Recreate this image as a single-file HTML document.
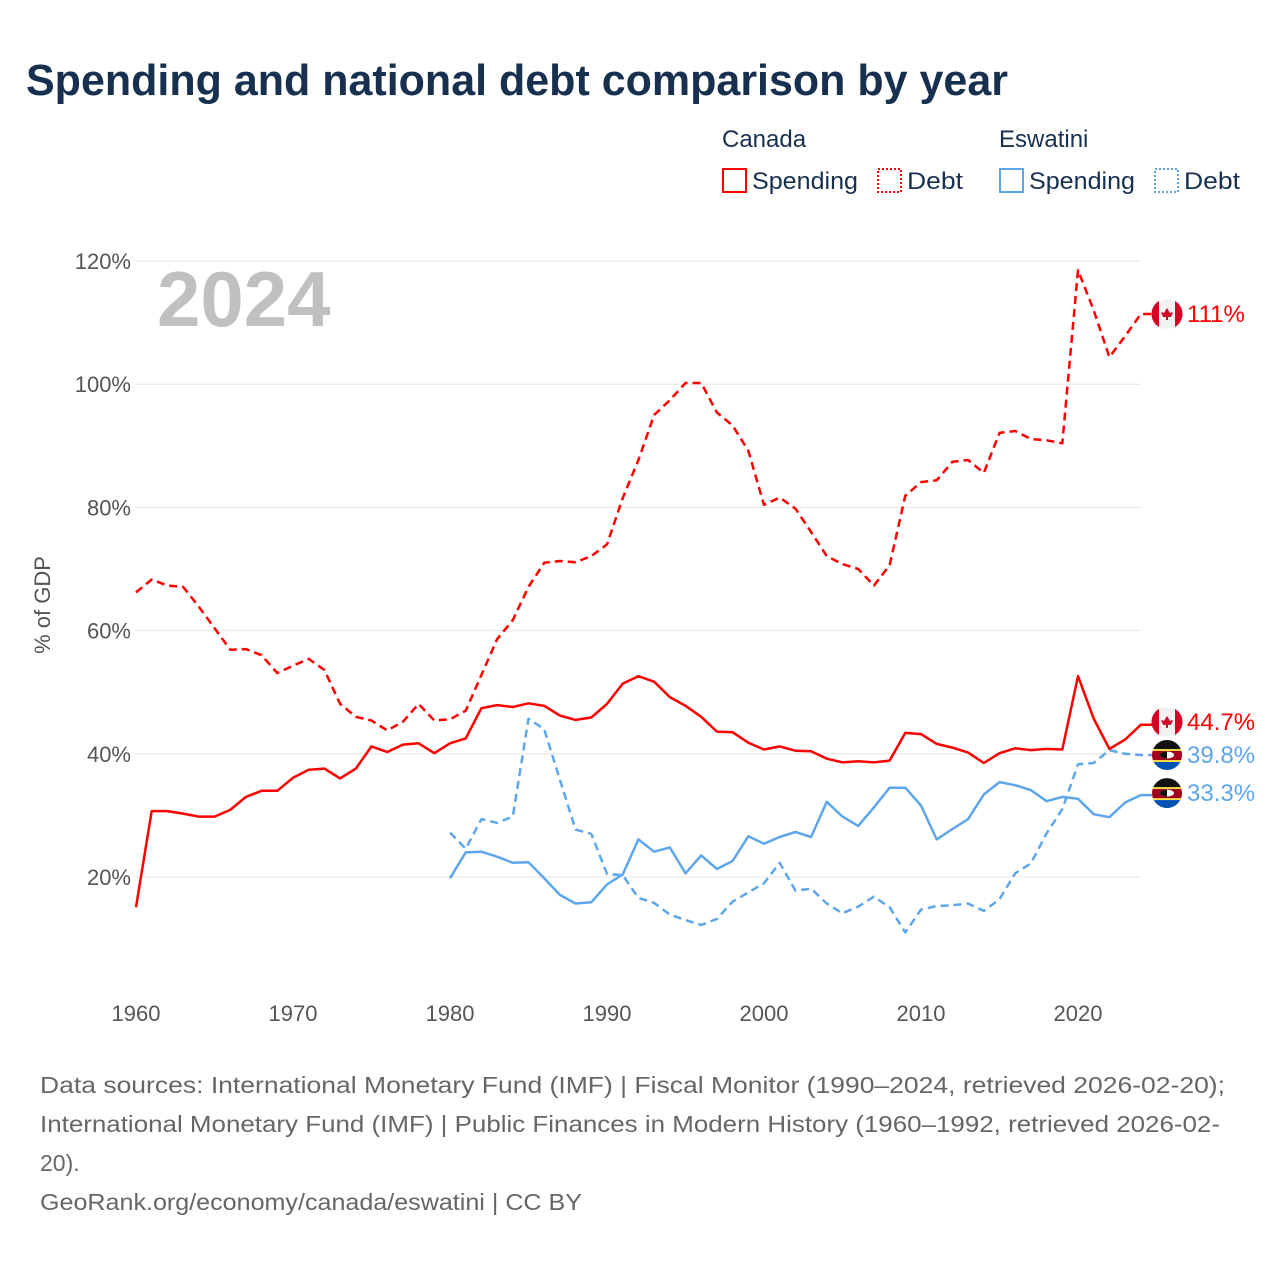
<!DOCTYPE html>
<html><head><meta charset="utf-8"><style>
body{margin:0;background:#fff;}
svg{display:block;font-family:"Liberation Sans",sans-serif;}
</style></head><body>
<svg id="chart" width="1280" height="1280" viewBox="0 0 1280 1280">
<text x="26" y="95" font-size="44" font-weight="bold" fill="#17304f" textLength="982" lengthAdjust="spacingAndGlyphs">Spending and national debt comparison by year</text>
<g>
<text x="722" y="147" font-size="24" fill="#17304f">Canada</text>
<text x="999" y="147" font-size="24" fill="#17304f">Eswatini</text>
<g><rect x="723" y="169" width="23" height="23" fill="none" stroke="#ff0000" stroke-width="2"/><text x="752" y="189" font-size="24" fill="#17304f" textLength="106" lengthAdjust="spacingAndGlyphs">Spending</text></g>
<g><rect x="878" y="169" width="23" height="23" fill="none" stroke="#ff0000" stroke-width="2" stroke-dasharray="2,2"/><text x="907" y="189" font-size="24" fill="#17304f" textLength="56" lengthAdjust="spacingAndGlyphs">Debt</text></g>
<g><rect x="1000" y="169" width="23" height="23" fill="none" stroke="#5ea6ec" stroke-width="2"/><text x="1029" y="189" font-size="24" fill="#17304f" textLength="106" lengthAdjust="spacingAndGlyphs">Spending</text></g>
<g><rect x="1155" y="169" width="23" height="23" fill="none" stroke="#5ea6ec" stroke-width="2" stroke-dasharray="2,2"/><text x="1184" y="189" font-size="24" fill="#17304f" textLength="56" lengthAdjust="spacingAndGlyphs">Debt</text></g>
</g>
<text x="157" y="326" font-size="78" font-weight="bold" fill="#c0c0c0">2024</text>
<g id="grid"></g><g id="axes"></g><g id="series"></g><g id="endlabels"></g>
<text transform="translate(50,605) rotate(-90)" text-anchor="middle" font-size="22" fill="#555">% of GDP</text>
<g font-size="23" fill="#666">
<text x="40" y="1093" textLength="1185" lengthAdjust="spacingAndGlyphs">Data sources: International Monetary Fund (IMF) | Fiscal Monitor (1990–2024, retrieved 2026-02-20);</text>
<text x="40" y="1132" textLength="1180" lengthAdjust="spacingAndGlyphs">International Monetary Fund (IMF) | Public Finances in Modern History (1960–1992, retrieved 2026-02-</text>
<text x="40" y="1171">20).</text>
<text x="40" y="1210" textLength="542" lengthAdjust="spacingAndGlyphs">GeoRank.org/economy/canada/eswatini | CC BY</text>
</g>
</svg>
<script>
const yTicks=[20,40,60,80,100,120];
const xTicks=[1960,1970,1980,1990,2000,2010,2020];
const canadaStart=1960;
const canadaSpending=[15.1,30.7,30.7,30.3,29.8,29.8,30.9,33.0,34.0,34.0,36.1,37.4,37.6,36.0,37.6,41.2,40.3,41.5,41.7,40.1,41.7,42.5,47.4,47.9,47.6,48.2,47.8,46.2,45.5,45.9,48.1,51.4,52.6,51.7,49.2,47.8,46.0,43.6,43.5,41.8,40.7,41.2,40.5,40.4,39.2,38.6,38.8,38.6,38.9,43.4,43.2,41.6,41.0,40.2,38.5,40.1,40.9,40.6,40.8,40.7,52.6,45.7,40.8,42.3,44.7];
const canadaDebt=[66.2,68.3,67.3,67.1,63.9,60.4,56.9,57.0,56.0,53.1,54.3,55.4,53.6,48.1,46.0,45.4,43.8,45.2,48.1,45.4,45.6,47.0,52.8,58.6,61.7,67.1,71.0,71.3,71.1,72.1,74.0,81.5,87.7,95.0,97.4,100.2,100.2,95.4,93.3,89.2,80.4,81.6,79.8,76.0,72.1,70.8,70.0,67.3,70.6,81.9,84.1,84.4,87.4,87.7,85.6,92.1,92.4,91.1,90.9,90.4,118.5,112.0,104.4,107.8,111.4];
const eswStart=1980;
const eswSpending=[19.8,24.0,24.1,23.3,22.3,22.4,19.8,17.1,15.7,15.9,18.8,20.4,26.1,24.1,24.8,20.6,23.5,21.3,22.6,26.6,25.4,26.5,27.3,26.5,32.2,29.8,28.3,31.3,34.5,34.5,31.6,26.1,27.8,29.4,33.4,35.4,34.9,34.1,32.3,33.0,32.7,30.2,29.7,32.1,33.3];
const eswDebt=[27.2,24.6,29.4,28.8,29.8,45.7,44.0,35.8,27.7,27.0,20.5,20.3,16.6,15.8,13.9,13.0,12.2,13.2,16.0,17.5,19.0,22.3,17.8,18.1,15.7,14.1,15.2,16.8,15.1,11.0,14.7,15.3,15.4,15.7,14.5,16.4,20.6,22.2,27.1,31.0,38.3,38.5,40.6,40.0,39.8];
const endLabels=["111%","44.7%","39.8%","33.3%"];

const NS="http://www.w3.org/2000/svg";
function xS(yr){return 136+(yr-1960)*15.7;}
function yS(v){return 877-(v-20)*6.16;}
function mk(tag,attrs,parent){const e=document.createElementNS(NS,tag);for(const k in attrs)e.setAttribute(k,attrs[k]);parent.appendChild(e);return e;}
const grid=document.getElementById('grid'),axes=document.getElementById('axes'),series=document.getElementById('series'),endG=document.getElementById('endlabels');
yTicks.forEach(t=>{
  const l=mk('line',{x1:135,x2:1141,y1:yS(t),y2:yS(t),stroke:'#e6e6e6','stroke-width':1},grid);
  
  
  const tx=mk('text',{x:131,y:yS(t)+8,'text-anchor':'end','font-size':22,fill:'#555'},axes);
  tx.textContent=t+'%';
  
  
});
xTicks.forEach(t=>{
  const tx=mk('text',{x:xS(t),y:1021,'text-anchor':'middle','font-size':22,fill:'#555'},axes);
  tx.textContent=t;
  
  
});
function line(arr,start,color,dash,name){
  const pts=arr.map((v,i)=>xS(start+i).toFixed(1)+','+yS(v).toFixed(1));
  const last=arr[arr.length-1];
  pts.push('1152,'+yS(last).toFixed(1));
  const p=mk('polyline',{points:pts.join(' '),fill:'none',stroke:color,'stroke-width':2.5,'stroke-linejoin':'round'},series);
  if(dash)p.setAttribute('stroke-dasharray','8,5');
  
  
}
line(eswDebt,eswStart,'#5ea6ec',true,'eswatini-debt-line');
line(eswSpending,eswStart,'#5ea6ec',false,'eswatini-spending-line');
line(canadaDebt,canadaStart,'#ff0000',true,'canada-debt-line');
line(canadaSpending,canadaStart,'#ff0000',false,'canada-spending-line');

function canadaFlag(cy,name){
  const g=mk('g',{},endG);
  
  
  mk('circle',{cx:1167,cy:cy,r:15,fill:'#f2f2f2'},g);
  mk('path',{d:`M1159,${cy-13} A15,15 0 0 0 1159,${cy+13} Z`,fill:'#d80027'},g);
  mk('path',{d:`M1175,${cy-13} A15,15 0 0 1 1175,${cy+13} Z`,fill:'#d80027'},g);
  mk('polygon',{points:`1167,${cy-6} 1170,${cy-1} 1173,${cy-2} 1171,${cy+3} 1168,${cy+3} 1168,${cy+6} 1166,${cy+6} 1166,${cy+3} 1163,${cy+3} 1161,${cy-2} 1164,${cy-1}`,fill:'#d80027'},g);
}
function eswFlag(cy,name){
  const g=mk('g',{},endG);
  
  
  const cp='clip'+name;
  const d=mk('clipPath',{id:cp},g);mk('circle',{cx:1167,cy:cy,r:15},d);
  const gg=mk('g',{'clip-path':`url(#${cp})`},g);
  mk('rect',{x:1152,y:cy-15,width:30,height:10,fill:'#111'},gg);
  mk('rect',{x:1152,y:cy-6,width:30,height:13,fill:'#ffda44'},gg);
  mk('rect',{x:1152,y:cy-4,width:30,height:9,fill:'#a2001d'},gg);
  mk('rect',{x:1152,y:cy+7,width:30,height:8,fill:'#0052b4'},gg);
  mk('ellipse',{cx:1167,cy:cy,rx:7,ry:3.5,fill:'#fff'},gg);
  mk('path',{d:`M1160,${cy} A7,3.5 0 0 1 1167,${cy-3.5} L1167,${cy+3.5} A7,3.5 0 0 1 1160,${cy} Z`,fill:'#111'},gg);
}
const ends=[[yS(canadaDebt[canadaDebt.length-1]),'#ff0000','c',0],[yS(canadaSpending[canadaSpending.length-1]),'#ff0000','c',-3],[yS(eswDebt[eswDebt.length-1]),'#5ea6ec','e',0],[yS(eswSpending[eswSpending.length-1]),'#5ea6ec','e',-2]];
ends.forEach((e,i)=>{
  const cy=e[0]+e[3];
  if(e[2]==='c')canadaFlag(cy,'flag-canada-'+i);else eswFlag(cy,'flag-eswatini-'+i);
  const t=mk('text',{x:1187,y:cy+8,'font-size':24,fill:e[1]},endG);
  t.textContent=endLabels[i];
  
  
});
</script>
</body></html>
